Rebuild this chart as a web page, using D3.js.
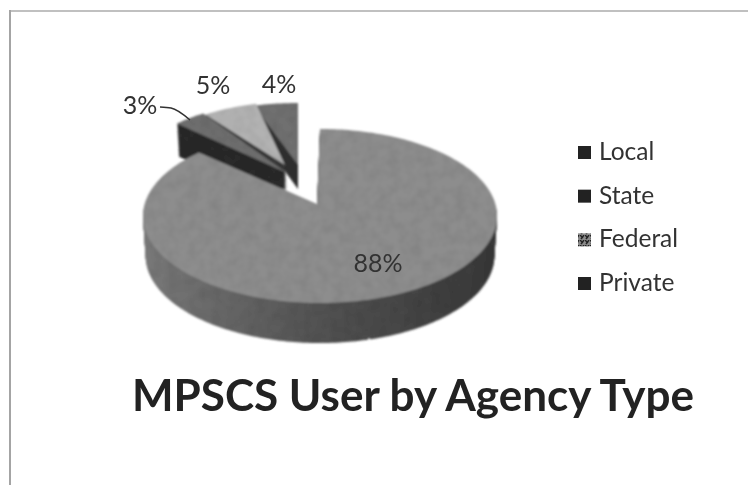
<!DOCTYPE html>
<html>
<head>
<meta charset="utf-8">
<script src="https://cdn.jsdelivr.net/npm/d3@7"></script>
<style>
    html, body { margin: 0; padding: 0; background: #fff; }
    svg { display: block; }
    text { font-family: Lato, "Open Sans", sans-serif; fill: #333; }
</style>
</head>
<body>
<div id="chart"></div>
<script>
const categories = ["Local", "State", "Federal", "Private"];
const shares = [88, 3, 5, 4];
const shareLabels = ["88%", "3%", "5%", "4%"];
const chartTitle = "MPSCS User by Agency Type";

const width = 748;
const height = 485;

// tilted pie: ellipse size shared, each slice has its own centre and tip
const rx = 177;
const ry = 87;
const sliceLayout = {
    Local:   { cx: 320, cy: 216, tipX: 317, tipY: 204, depth: 40, top: "#8d8d8d", side: "url(#sideShade)" },
    State:   { cx: 298, cy: 187, tipX: 287, tipY: 173, depth: 33, top: "#6e6e6e", side: "#2c2c2c" },
    Federal: { cx: 300, cy: 188, tipX: 285, tipY: 165, depth: 24, top: "#b2b2b2", side: "#3a3a3a" },
    Private: { cx: 298, cy: 190, tipX: 298, tipY: 165, depth: 24, top: "#707070", side: "#303030" }
};
const labelPos = {
    Local:   { x: 378, y: 272 },
    State:   { x: 140, y: 114 },
    Federal: { x: 213, y: 94 },
    Private: { x: 279, y: 93 }
};

const svg = d3.select("#chart").append("svg")
    .attr("width", width)
    .attr("height", height);

const defs = svg.append("defs");

const sideShade = defs.append("linearGradient")
    .attr("id", "sideShade")
    .attr("gradientUnits", "userSpaceOnUse")
    .attr("x1", 143).attr("x2", 497).attr("y1", 0).attr("y2", 0);
sideShade.append("stop").attr("offset", "0").attr("stop-color", "#787878");
sideShade.append("stop").attr("offset", "0.5").attr("stop-color", "#525252");
sideShade.append("stop").attr("offset", "1").attr("stop-color", "#383838");

// scanned paper look
const mottled = defs.append("filter").attr("id", "mottled")
    .attr("x", "-5%").attr("y", "-5%").attr("width", "110%").attr("height", "110%");
mottled.append("feTurbulence")
    .attr("type", "fractalNoise").attr("baseFrequency", 0.09)
    .attr("numOctaves", 2).attr("seed", 4).attr("result", "noise");
mottled.append("feDisplacementMap")
    .attr("in", "SourceGraphic").attr("in2", "noise").attr("scale", 1.5).attr("result", "moved");
mottled.append("feColorMatrix").attr("in", "noise").attr("type", "matrix")
    .attr("values", "0 0 0 0 0  0 0 0 0 0  0 0 0 0 0  0.25 0 0 0 -0.09")
    .attr("result", "spots");
mottled.append("feComposite").attr("in", "spots").attr("in2", "moved")
    .attr("operator", "in").attr("result", "clipped");
const merge = mottled.append("feMerge");
merge.append("feMergeNode").attr("in", "moved");
merge.append("feMergeNode").attr("in", "clipped");
mottled.append("feGaussianBlur").attr("stdDeviation", 0.9);

const soft = defs.append("filter").attr("id", "soft");
soft.append("feGaussianBlur").attr("stdDeviation", 0.5);

const hatch = defs.append("pattern").attr("id", "hatch")
    .attr("width", 5).attr("height", 5).attr("patternUnits", "userSpaceOnUse");
hatch.append("rect").attr("width", 5).attr("height", 5).attr("fill", "#8a8a8a");
hatch.append("path").attr("d", "M0 0L3 3M4 0L1 4").attr("stroke", "#222").attr("stroke-width", 1.4);

// frame, only top and left show in the scan
svg.append("line").attr("x1", 10).attr("y1", 11).attr("x2", width).attr("y2", 11)
    .attr("stroke", "#c0c0c0").attr("stroke-width", 2);
svg.append("line").attr("x1", 10).attr("y1", 10).attr("x2", 10).attr("y2", height)
    .attr("stroke", "#a4a4a4").attr("stroke-width", 2);

const pie = d3.pie().sort(null).value(d => d.value);
const slices = pie(categories.map((c, i) => ({ name: c, value: shares[i], label: shareLabels[i] })));

// wedge outline from the tip round the ellipse
function slicePath(d, layout) {
    const p = d3.path();
    p.moveTo(layout.tipX, layout.tipY);
    const steps = Math.ceil((d.endAngle - d.startAngle) / 0.02);
    d3.range(steps + 1).forEach(i => {
        const a = d.startAngle + (d.endAngle - d.startAngle) * i / steps;
        p.lineTo(layout.cx + rx * Math.sin(a), layout.cy - ry * Math.cos(a));
    });
    p.closePath();
    return p.toString();
}

const pieGroup = svg.append("g").attr("filter", "url(#mottled)");

// back to front: Private, Federal, State, then the big slice
const drawOrder = ["Private", "Federal", "State", "Local"];
drawOrder.forEach(name => {
    const d = slices.find(s => s.data.name === name);
    const layout = sliceLayout[name];
    const outline = slicePath(d, layout);
    const g = pieGroup.append("g").attr("class", "slice");
    g.selectAll(".wall")
        .data(d3.range(layout.depth, 0, -1))
        .enter()
        .append("path")
        .attr("class", "wall")
        .attr("d", outline)
        // lower rim narrows a little, the chart has perspective
        .attr("transform", dy => {
            const shrink = 1 - 0.015 * dy / layout.depth;
            return `translate(${layout.cx * (1 - shrink)},${dy}) scale(${shrink},1)`;
        })
        .attr("fill", layout.side);
    g.append("path").attr("d", outline).attr("fill", layout.top);
});

const textGroup = svg.append("g").attr("filter", "url(#soft)");

// leader line for the 3% label
const leader = d3.line().curve(d3.curveMonotoneX);
textGroup.append("path")
    .attr("d", leader([[160, 107], [171, 108], [190, 120]]))
    .attr("fill", "none")
    .attr("stroke", "#333")
    .attr("stroke-width", 1.5);

textGroup.selectAll(".share-label")
    .data(slices)
    .enter()
    .append("text")
    .attr("class", "share-label")
    .attr("x", d => labelPos[d.data.name].x)
    .attr("y", d => labelPos[d.data.name].y)
    .attr("text-anchor", "middle")
    .style("font-size", "25px")
    .text(d => d.data.label);

const legendY = d3.scalePoint().domain(categories).range([160, 291]);

textGroup.selectAll(".legend-box")
    .data(categories)
    .enter()
    .append("rect")
    .attr("class", "legend-box")
    .attr("x", 578)
    .attr("y", d => legendY(d) - 14)
    .attr("width", 13)
    .attr("height", 13)
    .attr("fill", d => d === "Federal" ? "url(#hatch)" : "#222");

textGroup.selectAll(".legend-label")
    .data(categories)
    .enter()
    .append("text")
    .attr("class", "legend-label")
    .attr("x", 599)
    .attr("y", d => legendY(d))
    .style("font-size", "24.5px")
    .text(d => d);

textGroup.append("text")
    .attr("x", 413)
    .attr("y", 411)
    .attr("text-anchor", "middle")
    .style("font-size", "44px")
    .style("font-weight", "bold")
    .style("fill", "#222")
    .text(chartTitle);
</script>
</body>
</html>
